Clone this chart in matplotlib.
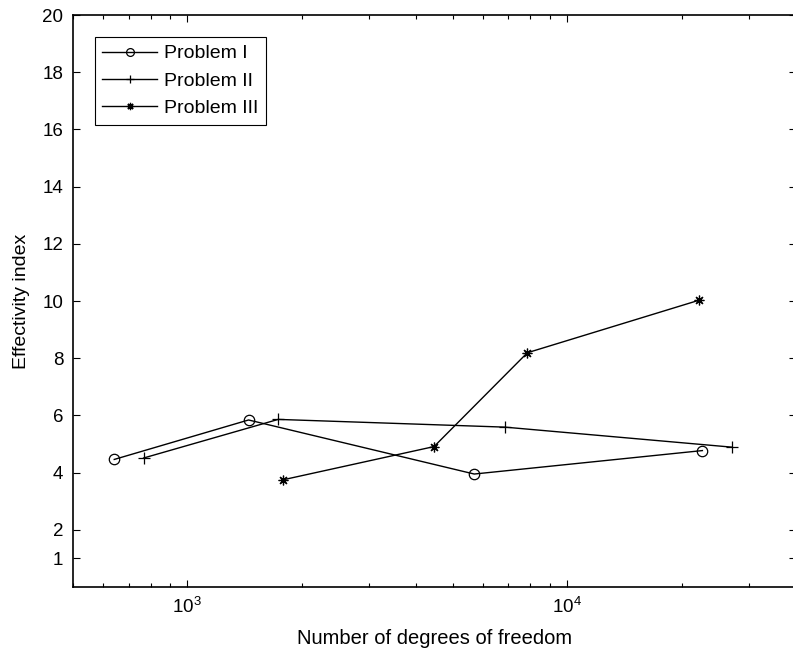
import matplotlib
matplotlib.use("Agg")
import matplotlib.pyplot as plt
from matplotlib.ticker import FixedLocator, LogLocator, NullFormatter

plt.rcParams['font.family'] = ['Liberation Sans', 'DejaVu Sans']

# Data
p1_x = [642, 1449, 5690, 22680]
p1_y = [4.46, 5.84, 3.95, 4.77]
p2_x = [767, 1734, 6850, 27100]
p2_y = [4.51, 5.86, 5.59, 4.89]
p3_x = [1788, 4460, 7850, 22260]
p3_y = [3.75, 4.91, 8.19, 10.03]
labels = ["Problem I", "Problem II", "Problem III"]
yticks = [1, 2, 4, 6, 8, 10, 12, 14, 16, 18, 20]

fig = plt.figure(figsize=(7.93, 6.55), dpi=100)
ax = fig.add_axes([73/793, (655-587)/655, 723/793, 572/655])

kw = dict(color='black', lw=1.0, mfc='none', mec='black', mew=0.9)
ax.plot(p1_x, p1_y, marker='o', ms=7.5, label=labels[0], **kw)
ax.plot(p2_x, p2_y, marker='+', ms=8.5, label=labels[1], **kw)
ax.plot(p3_x, p3_y, marker=(8, 2, 0), ms=7, label=labels[2], **kw)

ax.set_xscale('log')
ax.set_xlim(500, 40000)
ax.set_ylim(0, 20)
ax.set_yticks(yticks)
ax.xaxis.set_major_locator(FixedLocator([1e3, 1e4]))
ax.xaxis.set_minor_locator(LogLocator(base=10, subs=range(2, 10)))
ax.xaxis.set_minor_formatter(NullFormatter())

ax.tick_params(which='both', direction='in', top=True, right=True, labelsize=13.5, width=0.8, pad=7)
ax.tick_params(which='major', length=5)
ax.tick_params(which='minor', length=3)
for s in ax.spines.values():
    s.set_linewidth(1.2)

ax.set_xlabel("Number of degrees of freedom", fontsize=14.5, labelpad=9)
ax.set_ylabel("Effectivity index", fontsize=14, labelpad=9)

leg = ax.legend(loc='upper left', bbox_to_anchor=(0.030, 0.9615), fancybox=False,
                edgecolor='black', fontsize=14, handlelength=2.8, borderpad=0.4,
                labelspacing=0.5, handletextpad=0.36, borderaxespad=0, framealpha=1,
                markerscale=0.75)
leg.get_frame().set_linewidth(0.8)

fig.savefig("out.png", dpi=100)
